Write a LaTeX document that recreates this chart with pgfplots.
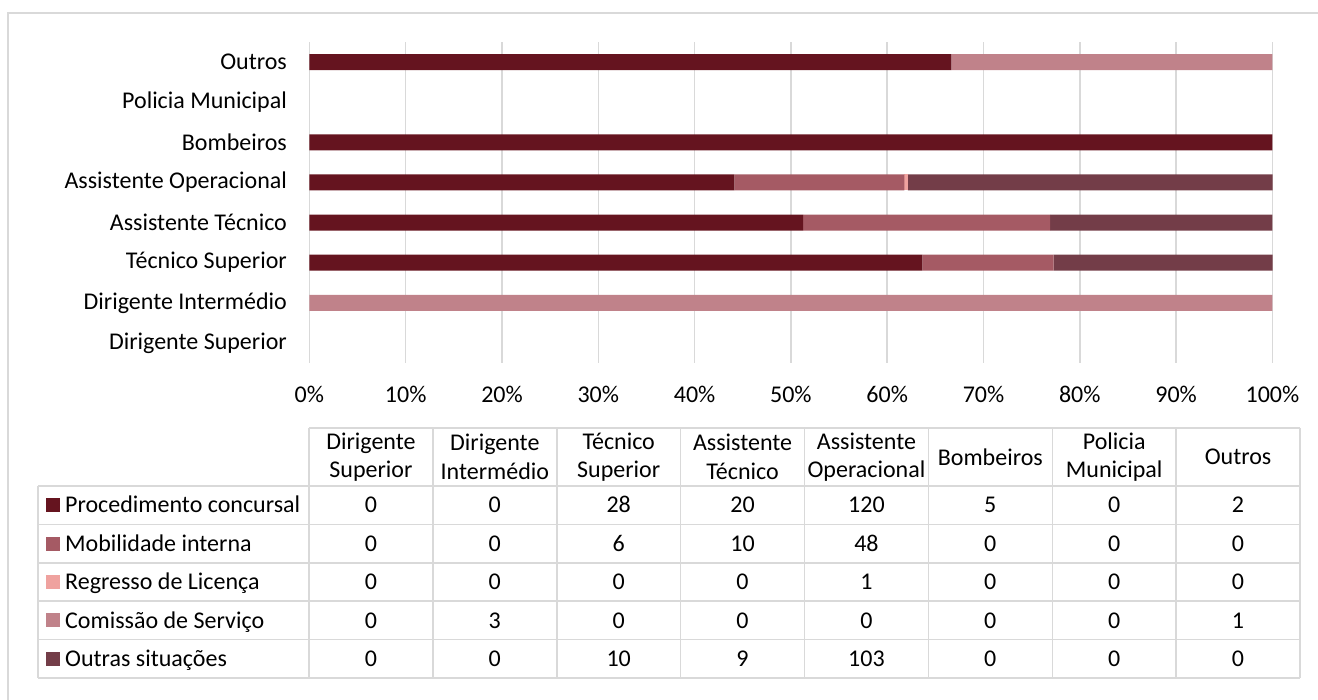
\documentclass[border=0pt]{standalone}
\usepackage{fontspec}
\setmainfont{Carlito}
\usepackage{pgfplots}
\pgfplotsset{compat=1.18}
\definecolor{cA}{HTML}{65141F}
\definecolor{cB}{HTML}{A55A64}
\definecolor{cC}{HTML}{EFA29F}
\definecolor{cD}{HTML}{C0828A}
\definecolor{cE}{HTML}{733D48}
\definecolor{gridc}{HTML}{D9D9D9}
\begin{document}
\begin{tikzpicture}[x=1pt,y=1pt,font=\fontsize{24}{28.5}\selectfont]
\path[use as bounding box] (0,0) rectangle (1318,700);
\draw[gridc,line width=1.5pt] (8,-2) -- (8,687) -- (1320,687);
\begin{axis}[
  at={(309.4pt,658pt)}, anchor=north west,
  width=963pt, height=321pt, scale only axis,
  xbar stacked, bar width=16pt,
  xmin=0, xmax=100, ymin=-0.5, ymax=7.5,
  ytick={0,...,7},
  yticklabels={Dirigente Superior,Dirigente Intermédio,Técnico Superior,Assistente Técnico,Assistente Operacional,Bombeiros,Policia Municipal,Outros},
  xtick={0,10,...,100},
  xticklabels={0\%,10\%,20\%,30\%,40\%,50\%,60\%,70\%,80\%,90\%,100\%},
  tick label style={font=\fontsize{24}{28.5}\selectfont, text=black},
  xticklabel style={yshift=-20pt},
  yticklabel style={xshift=-19pt},
  axis line style={draw=none},
  major tick length=0pt,
  xmajorgrids,
  major grid style={gridc, line width=1.5pt},
  clip=false,
]
\addplot[fill=cA, draw=none] coordinates {(0,0) (0,1) (63.64,2) (51.28,3) (44.12,4) (100,5) (0,6) (66.67,7)};
\addplot[fill=cB, draw=none] coordinates {(0,0) (0,1) (13.64,2) (25.64,3) (17.65,4) (0,5) (0,6) (0,7)};
\addplot[fill=cC, draw=none] coordinates {(0,0) (0,1) (0,2) (0,3) (0.37,4) (0,5) (0,6) (0,7)};
\addplot[fill=cD, draw=none] coordinates {(0,0) (100,1) (0,2) (0,3) (0,4) (0,5) (0,6) (33.33,7)};
\addplot[fill=cE, draw=none] coordinates {(0,0) (0,1) (22.73,2) (23.08,3) (37.87,4) (0,5) (0,6) (0,7)};
\end{axis}
% data table
\begin{scope}[gridc, line width=1.5pt]
\draw (309,272) -- (1300,272);
\foreach \yy in {214,175.6,137.2,98.8,60.4,22} \draw (38,\yy) -- (1300,\yy);
\draw (38,214) -- (38,22);
\foreach \k in {0,...,8} \draw ({309+123.875*\k},272) -- ({309+123.875*\k},22);
\end{scope}
\foreach \h [count=\c from 0] in {{Dirigente\\Superior},{Dirigente\\Intermédio},{Técnico\\Superior},{Assistente\\Técnico},{Assistente\\Operacional},{Bombeiros},{Policia\\Municipal},{Outros}}
  \node[align=center, inner sep=0pt] at ({309+123.875*(\c+0.5)},243) {\h};
\foreach \lab/\col [count=\r from 0] in {Procedimento concursal/cA,Mobilidade interna/cB,Regresso de Licença/cC,Comissão de Serviço/cD,Outras situações/cE}{
  \fill[\col] (46,{194.8-38.4*\r-7}) rectangle ++(14,14);
  \node[anchor=base west, inner sep=0pt] at (65,{194.8-38.4*\r-7.7}) {\lab};
}
\foreach \vals [count=\r from 0] in {{0,0,28,20,120,5,0,2},{0,0,6,10,48,0,0,0},{0,0,0,0,1,0,0,0},{0,3,0,0,0,0,0,1},{0,0,10,9,103,0,0,0}}{
  \foreach \v [count=\c from 0] in \vals
    \node[anchor=base, inner sep=0pt] at ({309+123.875*(\c+0.5)},{194.8-38.4*\r-7.7}) {\v};
}
\end{tikzpicture}
\end{document}
